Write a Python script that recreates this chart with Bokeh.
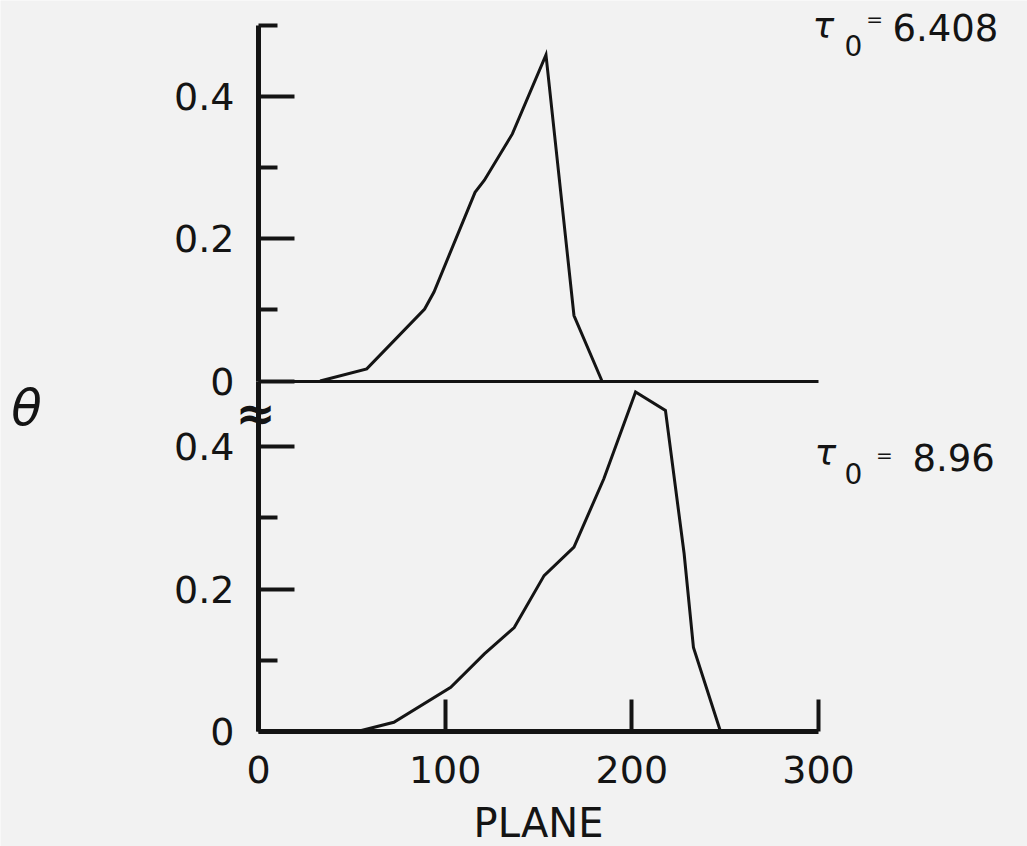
from bokeh.plotting import figure
from bokeh.models import Range1d, LinearAxis, FixedTicker, NumeralTickFormatter, Label
from bokeh.embed import file_html
from bokeh.resources import INLINE

# ---- data ----
plane_top = [33, 58, 89, 94, 116, 121, 136, 154, 169, 184]
theta_top = [0.0, 0.017, 0.101, 0.125, 0.265, 0.282, 0.347, 0.458, 0.092, 0.0]

plane_bottom = [53, 72.5, 103, 121, 137, 153, 169, 185, 202, 218, 228, 233, 247.5]
theta_bottom = [0.0, 0.013, 0.062, 0.109, 0.146, 0.219, 0.259, 0.355, 0.477, 0.451, 0.250, 0.118, 0.0]

x_ticks = [0, 100, 200, 300]
y_major = [0, 0.2, 0.4]
y_minor_top = [0.1, 0.3, 0.5]
y_minor_bottom = [0.1, 0.3]
tau_top = "6.408"
tau_bottom = "8.96"
x_label = "PLANE"
y_label = "θ"

# ---- styling / geometry ----
FONT = "DejaVu Sans"
BG = "#f2f2f2"
INK = "#141414"
W, H = 1027, 846
X0_PX = 258.0       # screen x of plane = 0
XS = 1.8667         # px per plane unit
Y0_PX = 731.0       # screen y of bottom-panel zero
PX = 712.0          # px per unit of theta
OFFSET = 350.5      # px between the two zero lines

xr = Range1d(-X0_PX / XS, (W - X0_PX) / XS)
ylo = -(H - Y0_PX) / PX
yhi = Y0_PX / PX
p = figure(width=W, height=H, output_backend="svg", toolbar_location=None,
           x_range=xr, y_range=Range1d(ylo, yhi),
           min_border_left=0, min_border_right=0, min_border_top=0, min_border_bottom=0)
p.title = None
p.extra_y_ranges = {"top": Range1d(ylo - OFFSET / PX, yhi - OFFSET / PX)}
p.background_fill_color = BG
p.border_fill_color = BG
p.outline_line_color = None
p.grid.visible = False


def style_axis(ax, tick_in, minor_in, width):
    ax.axis_line_color = INK
    ax.axis_line_width = width
    ax.major_tick_line_color = INK
    ax.minor_tick_line_color = INK
    ax.major_tick_line_width = 4
    ax.minor_tick_line_width = 4
    ax.major_tick_in = tick_in
    ax.major_tick_out = 0
    ax.minor_tick_in = minor_in
    ax.minor_tick_out = 0
    ax.major_label_text_font = FONT
    ax.major_label_text_font_size = "38px"
    ax.major_label_text_color = INK


# bottom panel x axis
xb = p.xaxis[0]
xb.fixed_location = 0
xb.bounds = (0, 300)
xb.ticker = FixedTicker(ticks=x_ticks)
style_axis(xb, 32, 0, 5)
xb.major_label_standoff = 24

# top panel x axis (zero line)
xt = LinearAxis(y_range_name="top", fixed_location=0, bounds=(0, 300),
                ticker=FixedTicker(ticks=[]))
style_axis(xt, 0, 0, 3)
xt.major_label_standoff = 0
p.add_layout(xt, "below")

# bottom panel y axis
yb = p.yaxis[0]
yb.fixed_location = 0
yb.bounds = (0, OFFSET / PX)
yb.ticker = FixedTicker(ticks=y_major, minor_ticks=y_minor_bottom)
yb.formatter = NumeralTickFormatter(format="0.[0]")
style_axis(yb, 36, 19, 5)
yb.major_label_standoff = 24

# top panel y axis
yt = LinearAxis(y_range_name="top", fixed_location=0, bounds=(0, 0.5),
                ticker=FixedTicker(ticks=y_major, minor_ticks=y_minor_top),
                formatter=NumeralTickFormatter(format="0.[0]"))
style_axis(yt, 36, 19, 5)
yt.major_label_standoff = 24
p.add_layout(yt, "left")

# curves
p.line(plane_bottom, theta_bottom, line_width=3, line_color=INK, line_join="miter")
p.line(plane_top, theta_top, y_range_name="top", line_width=3, line_color=INK, line_join="miter")


def lab(text, x, y, size, rng="default", align="left", base="alphabetic", style="normal"):
    p.add_layout(Label(x=x, y=y, text=text, y_range_name=rng, text_font=FONT,
                       text_font_size=size, text_align=align, text_baseline=base,
                       text_font_style=style, text_color=INK))


# tau labels
lab("τ", 296.8, 0.4987, "36px", rng="top", style="italic")
lab("0", 313.9, 0.4708, "28px", rng="top")
lab("=", 330.0, 0.508, "20px", rng="top", align="center", base="middle")
lab(tau_top, 339.6, 0.4962, "37px", rng="top")

lab("τ", 297.9, 0.3913, "36px", style="italic")
lab("0", 313.9, 0.3618, "28px")
lab("=", 335.3, 0.389, "20px", align="center", base="middle")
lab(tau_bottom, 350.3, 0.3848, "37px")

# axis break mark, axis titles
lab("≈", -1.5, 0.447, "48px", align="center", base="middle", style="bold")
lab(y_label, -124.3, 0.4537, "50px", align="center", base="middle", style="italic")
lab(x_label, 150, -0.1292, "40px", align="center")

open("out.html", "w").write(file_html(p, INLINE))
